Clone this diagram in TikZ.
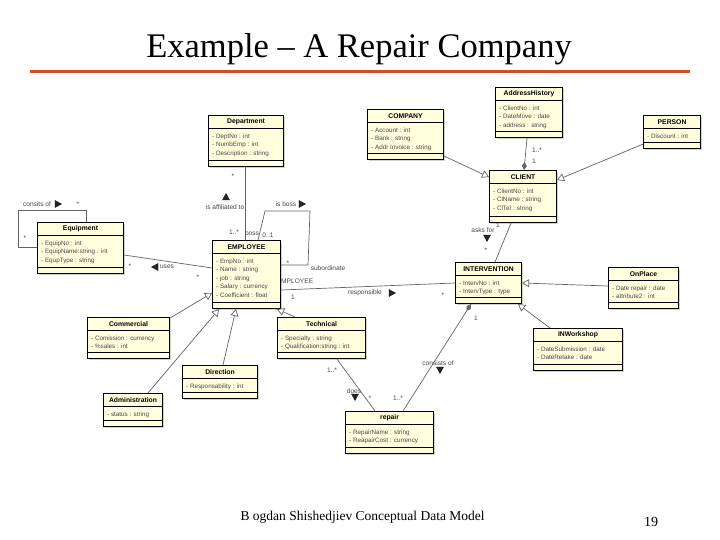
\documentclass[tikz,border=0pt]{standalone}
\usepackage{fontspec}
\setmainfont{Liberation Serif}
\newfontfamily\umlfont{Liberation Sans}
\usetikzlibrary{arrows.meta,calc,shadows}

\definecolor{umlfill}{RGB}{255,255,222}
\definecolor{linegray}{RGB}{100,100,100}
\definecolor{attrgray}{RGB}{70,70,70}
\definecolor{titlered}{RGB}{214,76,38}

\tikzset{
 umlbox/.style={draw=black, line width=1.1pt, fill=umlfill,
   drop shadow={shadow xshift=1.5pt, shadow yshift=-1.5pt, opacity=0.35, fill=gray},
   inner sep=0pt, anchor=north west},
 boxtitle/.style={font=\umlfont\bfseries\fontsize{6.8}{8}\selectfont, inner sep=0pt},
 attrs/.style={font=\umlfont\fontsize{6.3}{8.6}\selectfont, text=attrgray, align=left, inner sep=0pt, anchor=north west},
 sepline/.style={draw=black, line width=0.8pt},
 conn/.style={draw=linegray, line width=0.7pt},
 gen/.style={conn, -{Triangle[length=7pt, width=8pt, fill=white]}},
 comp/.style={conn, {Diamond[length=8pt, width=5pt, fill=linegray]}-},
 lbl/.style={font=\umlfont\fontsize{6.6}{7}\selectfont, text=attrgray, inner sep=0pt},
 tri/.style={fill=black!85, draw=black, line width=0.3pt},
}

\newcommand\umlclass[7]{%
 \node[umlbox, minimum width=#4pt, minimum height=#5pt] (#1) at (#2,#3) {};
 \node[boxtitle] (#1-t) at ($(#1.north)+(0,7)$) {#6};
 \draw[sepline] ($(#1.north west)+(0,13.5)$) -- ($(#1.north east)+(0,13.5)$);
 \node[attrs] (#1-a) at ($(#1.north west)+(4,18.3)$) {#7};
 \draw[sepline] ($(#1.south west)+(0,-6.5)$) -- ($(#1.south east)+(0,-6.5)$);
}
\newcommand\triR[2]{\filldraw[tri] (#1,#2) ++(-3,-3.5) -- ++(6.5,3.5) -- ++(-6.5,3.5) -- cycle;}
\newcommand\triL[2]{\filldraw[tri] (#1,#2) ++(3,-3.5) -- ++(-6.5,3.5) -- ++(6.5,3.5) -- cycle;}
\newcommand\triU[2]{\filldraw[tri] (#1,#2) ++(-3.5,3) -- ++(3.5,-6.5) -- ++(3.5,6.5) -- cycle;}
\newcommand\triD[2]{\filldraw[tri] (#1,#2) ++(-3.5,-3) -- ++(3.5,6.5) -- ++(3.5,-6.5) -- cycle;}

\begin{document}
\begin{tikzpicture}[x=1pt, y=-1pt]
\fill[white] (0,0) rectangle (720,540);
\useasboundingbox (0,0) rectangle (720,540);

% title and footer
\node[font=\fontsize{34.5}{37}\selectfont, anchor=base] (title) at (359,58) {Example – A Repair Company};
\draw[titlered, line width=3pt] (30,72) -- (690,72);
\node[font=\fontsize{13.5}{15}\selectfont, anchor=base west] (footer) at (237,520) {B ogdan Shishedjiev Conceptual Data Model};
\node[font=\fontsize{14}{16}\selectfont, anchor=base] (page) at (651,526) {19};

% role label partly hidden behind EMPLOYEE
\node[lbl] (m9) at (295,281) {EMPLOYEE};

% classes
\umlclass{DEPT}{208}{115}{75}{51}{Department}{- DeptNo : int\\- NumbEmp : int\\- Description : string}
\umlclass{COMP}{367}{109}{76}{50}{COMPANY}{- Account : int\\- Bank : string\\- Addr Invoice : string}
\umlclass{ADDR}{495}{87}{67}{50}{AddressHistory}{- ClientNo : int\\- DateMove : date\\- address : string}
\umlclass{PERSON}{643}{115}{57}{33}{PERSON}{- Discount : int}
\umlclass{CLIENT}{489}{170}{67}{52}{CLIENT}{- ClientNo : int\\- ClName : string\\- ClTel : string}
\umlclass{EQUIP}{37}{222}{86}{51}{Equipment}{- EquipNo : int\\- EquipName:string : int\\- EqupType : string}
\umlclass{EMP}{212}{240}{68}{68}{EMPLOYEE}{- EmpNo : int\\- Name : string\\- job : string\\- Salary : currency\\- Coefficient : float}
\umlclass{INTERV}{455}{262}{66}{41}{INTERVENTION}{- IntervNo : int\\- IntervType : type}
\umlclass{ONPL}{608}{267}{70}{41}{OnPlace}{- Date repair : date\\- attribute2 : int}
\umlclass{COMM}{87}{317}{82}{41}{Commercial}{- Comission : currency\\- \%sales : int}
\umlclass{ADM}{103}{393}{59}{33}{Administration}{- status : string}
\umlclass{DIR}{182}{365}{75}{33}{Direction}{- Responsability : int}
\umlclass{TECH}{277}{317}{88}{41}{Technical}{- Specialty : string\\- Qualification:string : int}
\umlclass{REP}{345}{411}{88}{42}{repair}{- RepairName : string\\- ReapairCost : currency}
\umlclass{INWS}{533}{328}{89}{42}{INWorkshop}{- DateSubmission : date\\- DateRetake : date}

% connectors
\coordinate (b1) at (265,211); \coordinate (b2) at (310,211); \coordinate (b3) at (308,265);
\coordinate (e1) at (86,210); \coordinate (e2) at (18,210); \coordinate (e3) at (18,247);
\draw[conn] ($(DEPT.south west)+(37,0)$) -- ($(EMP.north west)+(33,0)$);
\draw[conn] ($(EMP.north west)+(46,0)$) -- (b1) -- (b2) -- (b3) -- ($(EMP.north east)+(0,25)$);
\draw[conn] ($(EQUIP.north west)+(49,0)$) -- (e1) -- (e2) -- (e3) -- ($(EQUIP.north west)+(0,25)$);
\draw[conn] ($(EQUIP.north east)+(0,33)$) -- ($(EMP.north west)+(0,28)$);
\draw[gen] ($(COMP.south east)+(0,-4)$) -- ($(CLIENT.north west)+(0,7)$);
\draw[gen] ($(PERSON.south west)+(0,-5)$) -- ($(CLIENT.north east)+(0,10)$);
\draw[comp] ($(CLIENT.north west)+(35,0)$) -- ($(ADDR.south west)+(32,0)$);
\draw[conn] ($(CLIENT.south west)+(22,0)$) -- ($(INTERV.north west)+(40,0)$);
\draw[conn] ($(EMP.north east)+(0,50)$) -- ($(INTERV.north west)+(0,21)$);
\draw[gen] ($(ONPL.north west)+(0,19)$) -- ($(INTERV.north east)+(0,21)$);
\draw[gen] ($(INWS.north west)+(17,0)$) -- ($(INTERV.south east)+(-4,0)$);
\draw[comp] ($(INTERV.south west)+(16,0)$) -- ($(REP.north west)+(58,0)$);
\draw[conn] ($(TECH.south west)+(60,0)$) -- ($(REP.north west)+(30,0)$);
\draw[gen] ($(COMM.north east)+(0,1)$) -- ($(EMP.north west)+(0,53)$);
\draw[gen] ($(ADM.north west)+(45,0)$) -- ($(EMP.south west)+(7,0)$);
\draw[gen] ($(DIR.north west)+(41,0)$) -- ($(EMP.south west)+(24,0)$);
\draw[gen] ($(TECH.north west)+(18,0)$) -- ($(EMP.south east)+(-4,0)$);

% labels
\node[lbl] (m1) at (233,176) {*};
\node[lbl] (m2) at (225,207) {is affiliated to};
\triU{226}{197}
\node[lbl] (m3) at (234,232) {1..*};
\node[lbl] (m4) at (252,233) {boss};
\node[lbl] (m5) at (268,235) {0..1};
\node[lbl] (m6) at (286,204) {is boss};
\triR{302}{204}
\node[lbl] (m7) at (328,268) {subordinate};
\node[lbl] (m8) at (288,263) {*};
\node[lbl] (m10) at (37,204) {consits of};
\triR{58}{204}
\node[lbl] (m11) at (78,204) {*};
\node[lbl] (m12) at (25,238) {*};
\node[lbl] (m13) at (130,266) {*};
\triL{155}{267}
\node[lbl] (m14) at (167,267) {uses};
\node[lbl] (m15) at (198,277) {*};
\node[lbl] (m16) at (537,150) {1..*};
\node[lbl] (m17) at (534,161) {1};
\node[lbl] (m18) at (483,230) {asks for};
\node[lbl] (m19) at (498,225) {1};
\triD{487}{238}
\node[lbl] (m20) at (486,250) {*};
\node[lbl] (m21) at (293,297) {1};
\node[lbl] (m22) at (365,293) {responsible};
\triR{392}{293}
\node[lbl] (m23) at (443,295) {*};
\node[lbl] (m24) at (476,318) {1};
\node[lbl] (m25) at (438,363) {consists of};
\triD{440}{370}
\node[lbl] (m26) at (398,398) {1..*};
\node[lbl] (m27) at (332,370) {1..*};
\node[lbl] (m28) at (354,391) {does};
\triD{355}{397}
\node[lbl] (m29) at (370,398) {*};
\end{tikzpicture}
\end{document}
